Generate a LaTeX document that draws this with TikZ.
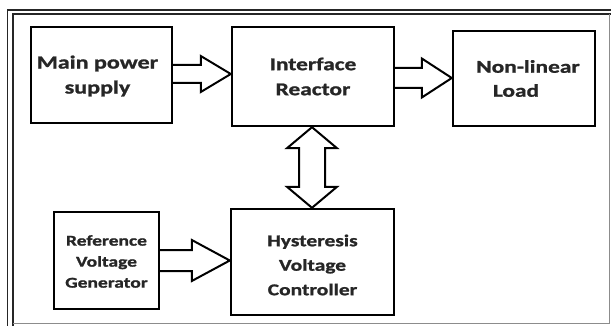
\documentclass[tikz,border=0pt]{standalone}
\usepackage{fontspec}
\newfontfamily\blkfont[FakeStretch=1.3, BoldFeatures={FakeBold=1.2}]{Carlito}
\usetikzlibrary{calc}
\newcommand\blockharrow[5]{%
  \draw[arr] ($(#1)+(0,#3)$) -- ($(#2)+(-#5,#3)$) -- ($(#2)+(-#5,#4)$) -- (#2)
    -- ($(#2)+(-#5,-#4)$) -- ($(#2)+(-#5,-#3)$) -- ($(#1)+(0,-#3)$);}
\begin{document}
\begin{tikzpicture}[x=1pt,y=-1pt,
  box/.style={draw=black, line width=2.4pt, inner sep=0pt, fill=white},
  txt/.style={font=\blkfont\bfseries, align=center, text=black!85},
  arr/.style={draw=black, line width=2pt, fill=white, line join=miter},
  frm/.style={draw=black!85, line width=1.3pt},
  frmg/.style={draw=black!45, line width=0.8pt}]
\useasboundingbox (0,0) rectangle (611,326);
% frame
\draw[frm] (7.5,326) -- (7.5,10) -- (611,10);
\draw[frm] (13,326) -- (13,14) -- (611,14);
\draw[frmg] (609,14) -- (609,323) -- (13,323);
% boxes
\node[box, minimum width=141pt, minimum height=96pt] (main) at (101.5,75) {};
\node[box, minimum width=162pt, minimum height=99pt] (iface) at (313,76.5) {};
\node[box, minimum width=142pt, minimum height=95pt] (load) at (524,78.5) {};
\node[box, minimum width=105pt, minimum height=97pt] (ref) at (106.5,260.5) {};
\node[box, minimum width=163pt, minimum height=106pt] (hyst) at (312.5,262) {};
% texts
\node[txt, font=\blkfont\bfseries\fontsize{18.5}{25}\selectfont] (tmain) at ($(main)+(-4,1)$) {Main power\\supply};
\node[txt, font=\blkfont\bfseries\fontsize{18}{25}\selectfont] (tiface) at ($(iface)+(0,0)$) {Interface\\Reactor};
\node[txt, font=\blkfont\bfseries\fontsize{18}{24}\selectfont] (tload) at ($(load)+(4,0)$) {Non-linear\\Load\hspace*{24pt}};
\node[txt, font=\blkfont\bfseries\fontsize{15}{21}\selectfont] (tref) at ($(ref)+(0,1)$) {Reference\\Voltage\\Generator};
\node[txt, font=\blkfont\bfseries\fontsize{16.5}{24.5}\selectfont] (thyst) at ($(hyst)+(0,3)$) {Hysteresis\\Voltage\\Controller};
% arrows
\coordinate (a1s) at ($(main.east)+(0,-1)$);
\coordinate (a1t) at (a1s -| iface.west);
\blockharrow{a1s}{a1t}{9}{18}{30}
\coordinate (a2s) at ($(iface.east)+(0,1.5)$);
\coordinate (a2t) at (a2s -| load.west);
\blockharrow{a2s}{a2t}{10}{19.5}{30}
\coordinate (a3s) at (ref.east);
\coordinate (a3t) at (a3s -| hyst.west);
\blockharrow{a3s}{a3t}{10.5}{20.5}{38}
\coordinate (v1) at ($(iface.south)+(-1,0)$);
\coordinate (v2) at (v1 |- hyst.north);
\draw[arr] (v1) -- ($(v1)+(25,21)$) -- ($(v1)+(13,21)$) -- ($(v2)+(13,-21)$) -- ($(v2)+(25,-21)$) -- (v2)
  -- ($(v2)+(-25,-21)$) -- ($(v2)+(-13,-21)$) -- ($(v1)+(-13,21)$) -- ($(v1)+(-25,21)$) -- cycle;
\end{tikzpicture}
\end{document}
